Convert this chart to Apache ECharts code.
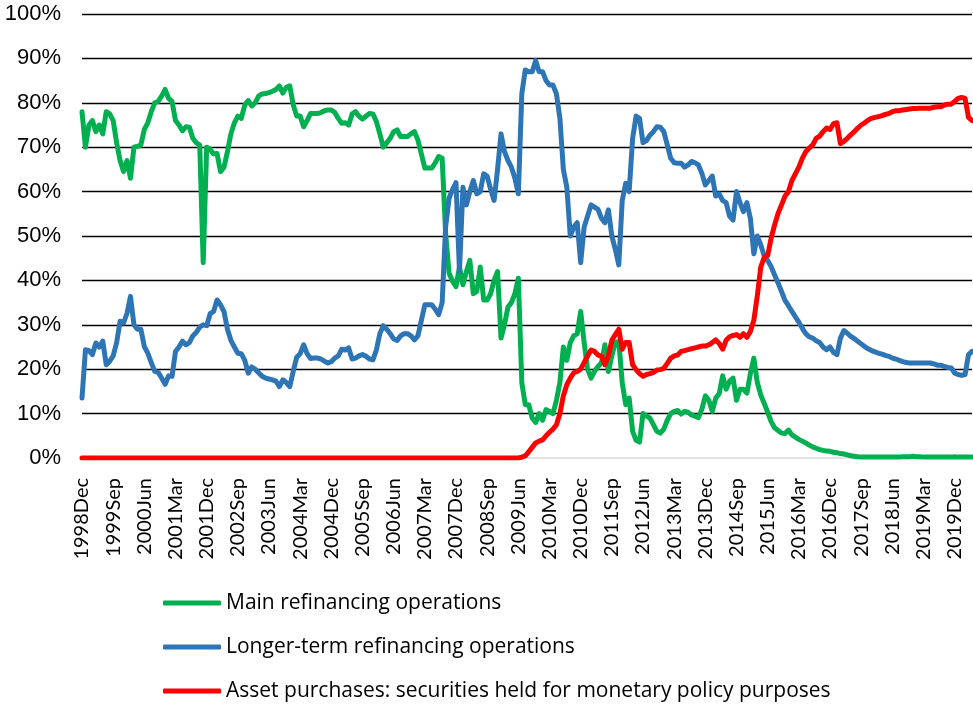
<!DOCTYPE html>
<html>
<head>
<meta charset="UTF-8">
<title>Eurosystem monetary policy operations</title>
<script src="https://cdn.jsdelivr.net/npm/echarts@6/dist/echarts.min.js"></script>
<style>
  html, body { margin: 0; padding: 0; background: #fff; }
  #container { width: 973px; height: 706px; }
</style>
</head>
<body>
<div id="container"></div>
<script>
// month labels, Dec 1998 to May 2020
var monthNames = ['Jan','Feb','Mar','Apr','May','Jun','Jul','Aug','Sep','Oct','Nov','Dec'];
var months = [];
for (var k = 0; k < 258; k++) {
    var m = (11 + k) % 12;
    var y = 1998 + Math.floor((11 + k) / 12);
    months.push(y + monthNames[m]);
}

// share of each operation, percent
var mainRefi = [
    78,70,75,76,73.5,75,73,78,77.5,76,
    71,67,64.5,67,63,70,70.2,70.5,74,75.5,
    78,80,80.3,81.5,83,81,80.3,76,75,73.7,
    74.6,74.5,72,71,70.5,44,70,69.5,68.5,68.6,
    64.5,65.5,69,73,75.5,77,76.5,79.5,80.5,79.3,
    80,81.5,82,82.1,82.3,82.6,83,83.8,82.2,83.5,
    83.8,79.5,77,77,74.6,76,77.6,77.6,77.6,77.8,
    78.2,78.4,78.4,77.8,76.5,75.4,75.5,75,77.5,78,
    77,76.3,77,77.6,77.5,75.8,73,70,71,72,
    73.5,73.9,72.4,72.4,72.4,73,73.5,71.6,68.5,65.3,
    65.3,65.3,66.5,67.9,67.5,50.6,41.6,39.8,38.6,43,
    39,42,44.5,37,37.5,43,35.6,35.6,37,40,
    42,27,30,34,35,37,40.5,17,12,12,
    9,8,10,8.5,10.9,10.5,10,13,17,25,
    22,26,27.5,28,33,26,20,18,19.5,20.6,
    21.4,25.5,19.5,23,26,26.3,17,12,13.5,6,
    4,3.6,10,9.5,9,7.5,6,5.6,6.5,8.5,
    10,10.5,10.7,9.9,10.5,10.3,9.7,9.4,9.1,11,
    14,13,10.5,13.5,14.5,18.5,15.5,17.3,18,13,
    15.5,15.5,14.6,19,22.5,17,14.2,12.3,10.3,8.2,
    6.8,6.2,5.6,5.5,6.3,5.2,4.7,4.2,3.8,3.4,
    2.9,2.5,2.2,1.9,1.7,1.6,1.5,1.3,1.2,1.0,
    0.9,0.7,0.5,0.4,0.3,0.2,0.2,0.2,0.2,0.2,
    0.2,0.2,0.2,0.2,0.2,0.2,0.2,0.3,0.3,0.3,
    0.4,0.3,0.3,0.2,0.2,0.2,0.2,0.2,0.2,0.2,
    0.2,0.2,0.3,0.2,0.2,0.2,0.2,0.2
];
var longerRefi = [
    13.5,24.4,24.2,23.3,25.9,25,26.3,21,21.8,23,
    26,30.8,30.4,32.6,36.4,30,29,29,25.1,23.6,
    21.5,19.5,19.3,18,16.6,18.5,18.4,24,25,26.3,
    25.5,26,27.5,28.3,29.5,30,29.8,32.5,33,35.6,
    34.5,33,29,26.5,25,23.6,23.5,22,19.1,20.5,
    20,19.2,18.4,18,17.8,17.6,17.3,16.1,17.6,17,
    16.1,19.5,22.7,23.5,25.5,23.5,22.4,22.5,22.5,22.3,
    21.8,21.4,21.7,22.5,23,24.5,24.3,24.8,22.3,22.5,
    23,23.3,22.9,22.3,22.1,24.3,28,29.8,29,28,
    26.8,26.5,27.5,28,28,27.5,26.6,27.5,31,34.5,
    34.5,34.5,33.5,32.3,35,52,58.5,60.5,62,42,
    61,57,60,62.5,59.5,60,64,63.5,60.5,58,
    65,73,69,67,65.5,63,59.5,82,87.4,87,
    87,89.5,87,87,85,84,84,82,76.5,65,
    61,50,52,53,44,52,54.5,57,56.5,56,
    54,53,55.9,50,47,43.5,58,61.9,60,72,
    77,76.5,71,71.5,72.7,73.5,74.6,74.5,73.5,70.5,
    67.5,66.5,66.4,66.4,65.5,66,66.8,66.5,66,64.1,
    61.5,62.5,63.5,59,59.5,58,57.5,54.5,53.6,60,
    57.5,55.5,57.5,54,46,50,48,45.5,44.5,43.1,
    41.2,39.4,37.5,35.5,34.3,33,31.8,30.6,29.2,28,
    27.3,27,26.4,26,25,24.4,25,23.8,23.3,27,
    28.7,28.1,27.4,26.9,26.3,25.7,25.1,24.6,24.2,23.9,
    23.6,23.4,23.1,22.9,22.5,22.3,22,21.7,21.5,21.4,
    21.4,21.4,21.4,21.4,21.4,21.4,21.2,20.9,20.9,20.6,
    20.4,20.3,19.1,18.8,18.6,18.8,23.3,24
];
var assetPurch = [
    0,0,0,0,0,0,0,0,0,0,
    0,0,0,0,0,0,0,0,0,0,
    0,0,0,0,0,0,0,0,0,0,
    0,0,0,0,0,0,0,0,0,0,
    0,0,0,0,0,0,0,0,0,0,
    0,0,0,0,0,0,0,0,0,0,
    0,0,0,0,0,0,0,0,0,0,
    0,0,0,0,0,0,0,0,0,0,
    0,0,0,0,0,0,0,0,0,0,
    0,0,0,0,0,0,0,0,0,0,
    0,0,0,0,0,0,0,0,0,0,
    0,0,0,0,0,0,0,0,0,0,
    0,0,0,0,0,0,0,0.2,0.5,1.4,
    2.4,3.4,3.8,4.1,5,5.8,6.5,7.5,10,14,
    16.5,18,19.2,19.5,20,21.5,23,24.3,24,23.2,
    22.9,21,23,26.5,27.8,29,24.5,26,26,21,
    19.9,19,18.4,18.8,19,19.3,19.8,19.9,20.2,21.3,
    22.5,23,23.2,24,24.2,24.4,24.6,24.8,25,25.2,
    25.2,25.5,26,26.6,25.8,24.5,26.5,27.3,27.6,27.8,
    27.2,28,27.2,28.5,31,36.5,43,45.2,45.6,49.5,
    52.5,55.1,57,59,60,62.5,64,65.5,67.5,69,
    69.8,70.5,72,72.5,73.5,74.3,74,75.3,75.5,70.8,
    71.3,72,72.8,73.5,74.3,75,75.5,76.1,76.5,76.7,
    76.9,77.1,77.4,77.6,78,78.2,78.2,78.4,78.5,78.6,
    78.7,78.7,78.8,78.8,78.8,78.8,79,79.1,79.1,79.5,
    79.7,79.7,80.3,81,81.2,81,76.7,76
];

var seriesNames = ['Main refinancing operations',
                   'Longer-term refinancing operations',
                   'Asset purchases: securities held for monetary policy purposes'];
var seriesColors = ['#00B050', '#2E75B6', '#FF0000'];

var mychart = echarts.init(document.getElementById('container'));

function lineSeries(idx, data) {
    return {
        name: seriesNames[idx],
        type: 'line',
        data: data,
        showSymbol: false,
        symbol: 'none',
        itemStyle: { color: seriesColors[idx] },
        lineStyle: { color: seriesColors[idx], width: 5, join: 'round', cap: 'round' }
    };
}

var option = {
    animation: false,
    grid: { left: 82, right: 1, top: 14, bottom: 248, containLabel: false },
    legend: {
        orient: 'vertical',
        left: 163,
        top: 591,
        padding: 0,
        itemWidth: 58,
        itemHeight: 5,
        itemGap: 20,
        icon: 'roundRect',
        data: seriesNames,
        textStyle: { fontFamily: '"Open Sans", sans-serif', fontSize: 21, color: '#000', lineHeight: 24 }
    },
    xAxis: {
        type: 'category',
        data: months,
        boundaryGap: false,
        axisLine: { lineStyle: { color: '#d9d9d9', width: 1.5 } },
        axisTick: { show: false },
        axisLabel: {
            interval: 8,
            rotate: 90,
            margin: 20,
            color: '#000',
            fontFamily: 'Lato, sans-serif',
            fontSize: 20
        },
        splitLine: { show: false }
    },
    yAxis: {
        type: 'value',
        min: 0,
        max: 100,
        interval: 10,
        axisLine: { show: false },
        axisTick: { show: false },
        axisLabel: {
            formatter: '{value}%',
            margin: 21,
            color: '#000',
            fontFamily: '"Liberation Sans", Arial, sans-serif',
            fontSize: 22
        },
        splitLine: { showMinLine: false, lineStyle: { color: '#000', width: 1.4 } }
    },
    series: [
        lineSeries(0, mainRefi),
        lineSeries(1, longerRefi),
        lineSeries(2, assetPurch)
    ]
};

mychart.setOption(option);
</script>
</body>
</html>
